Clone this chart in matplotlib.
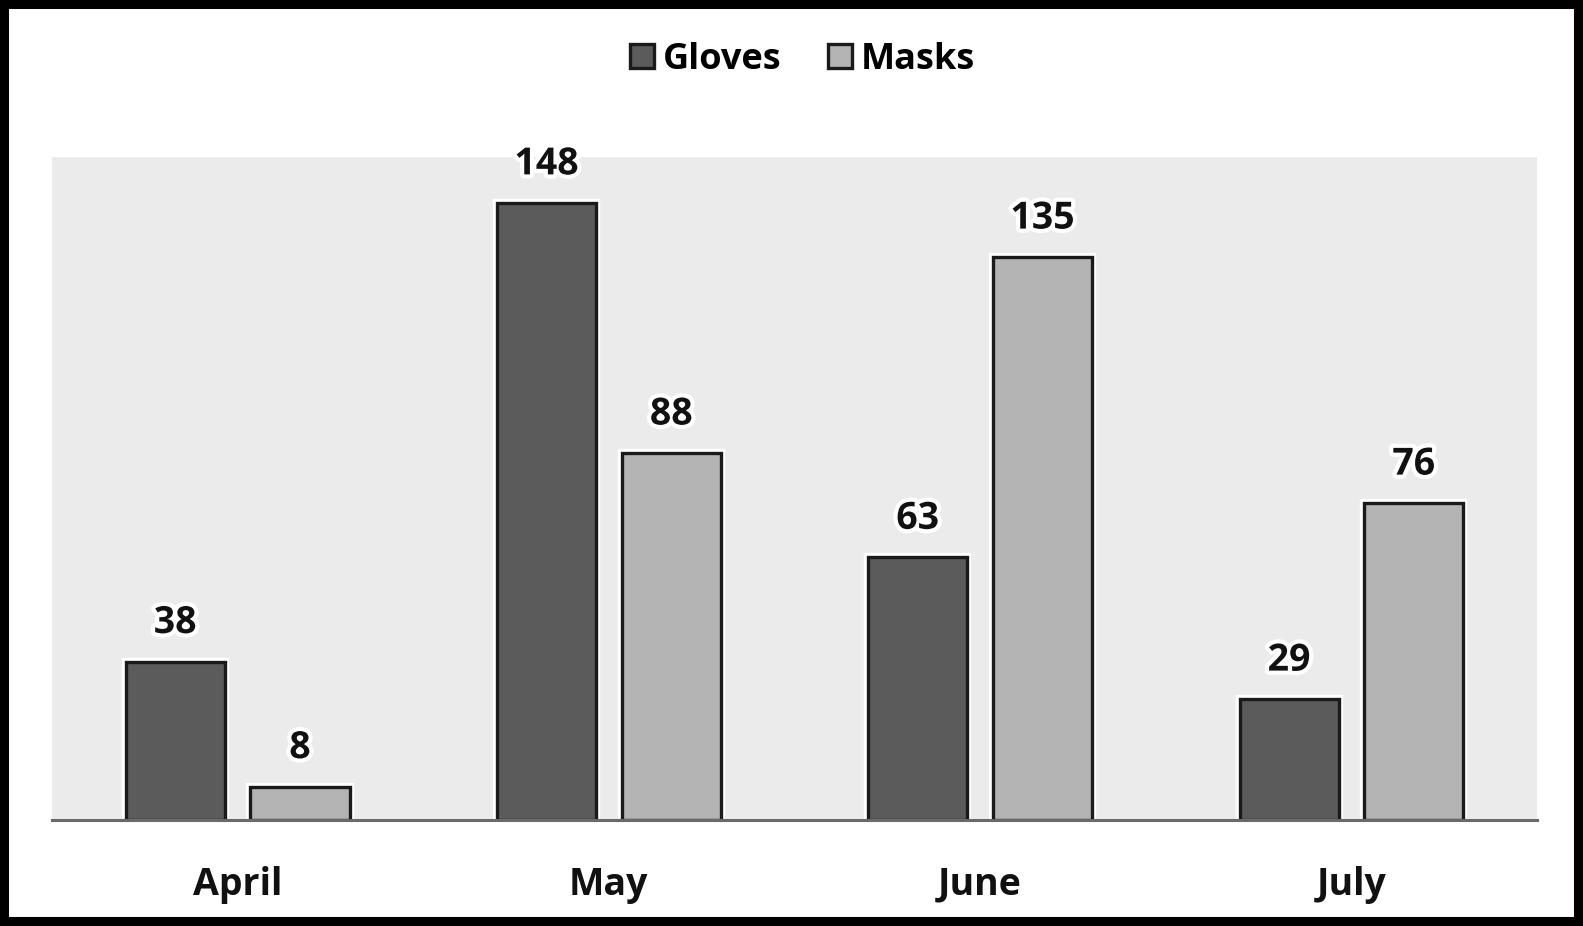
import matplotlib.pyplot as plt
import matplotlib.patheffects as pe
from matplotlib.patches import Rectangle
import numpy as np

months = ['April', 'May', 'June', 'July']
gloves = [38, 148, 63, 29]
masks = [8, 88, 135, 76]

plt.rcParams['font.family'] = ['Open Sans', 'DejaVu Sans']

fig = plt.figure(figsize=(15.83, 9.26), dpi=100)
ax = fig.add_axes([0.0328, 0.1145, 0.9382, 0.716])
ax.set_facecolor('#ebebeb')

x = np.arange(len(months))
w = 0.267
off = 0.168
halo = [pe.withStroke(linewidth=6, foreground='white')]

for vals, dx, col, name in [(gloves, -off, '#5b5b5b', 'Gloves'),
                            (masks, off, '#b4b4b4', 'Masks')]:
    # white glow behind bars
    ax.bar(x + dx, vals, w, color='white', edgecolor='white', linewidth=6, zorder=2)
    bars = ax.bar(x + dx, vals, w, color=col, edgecolor='#1a1a1a', linewidth=2.4,
                  zorder=3, label=name)
    for b, v in zip(bars, vals):
        ax.annotate(str(v), (b.get_x() + b.get_width() / 2, v), xytext=(0, 14),
                    textcoords='offset points', ha='center', va='bottom',
                    fontsize=27, fontweight='bold', color='#111111',
                    path_effects=halo, zorder=4)

ax.set_xlim(-0.5, 3.5)
ax.set_ylim(0, 159)
ax.set_yticks([])
ax.set_xticks(x)
ax.set_xticklabels(months, fontsize=27, fontweight='bold', color='#111111')
ax.tick_params(axis='x', length=0, pad=33)
for s in ['top', 'left', 'right']:
    ax.spines[s].set_visible(False)
ax.spines['bottom'].set_color('#6a6a6a')
ax.spines['bottom'].set_linewidth(2.2)
ax.spines['bottom'].set_zorder(5)

leg = fig.legend(loc='upper center', bbox_to_anchor=(0.507, 0.99), ncol=2, frameon=False,
                 fontsize=26, handlelength=0.65, handleheight=0.65, handletextpad=0.25,
                 columnspacing=1.3)
for t in leg.get_texts():
    t.set_fontweight('bold')

fig.patches.append(Rectangle((0, 0), 1, 1, transform=fig.transFigure, fill=False,
                             edgecolor='black', linewidth=13, zorder=10))

fig.savefig('out.png', dpi=100)
